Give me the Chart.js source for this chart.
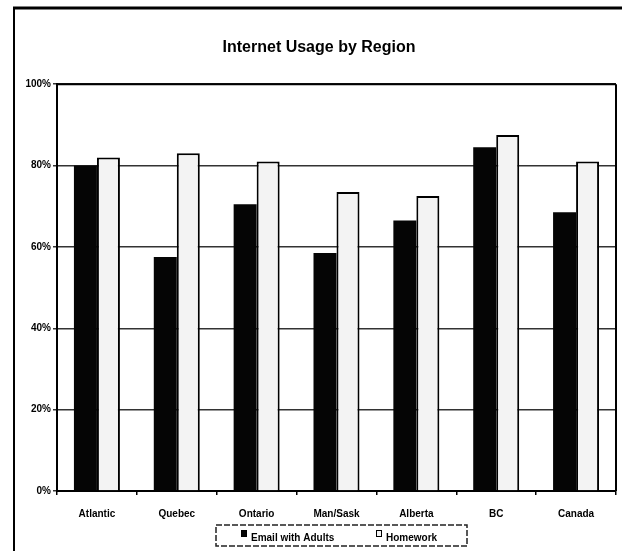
<!DOCTYPE html>
<html>
<head>
<meta charset="utf-8">
<script src="https://cdn.jsdelivr.net/npm/chart.js@4"></script>
<style>
html,body{margin:0;padding:0;background:#fff;}
#wrap{position:relative;width:622px;height:551px;}
</style>
</head>
<body>
<div id="wrap"><canvas id="c" width="622" height="551"></canvas></div>
<script>
const categories = ['Atlantic', 'Quebec', 'Ontario', 'Man/Sask', 'Alberta', 'BC', 'Canada'];
const emailWithAdults = [80, 57.5, 70.5, 58.5, 66.5, 84.5, 68.5];
const homework = [82, 83, 81, 73.5, 72.5, 87.5, 81];
const seriesLabels = ['Email with Adults', 'Homework'];
const chartTitle = 'Internet Usage by Region';

const FONT = '"Liberation Sans", Arial, sans-serif';

const framePlugin = {
  id: 'frame',
  afterDraw(chart) {
    const ctx = chart.ctx;
    const a = chart.chartArea;
    ctx.save();
    ctx.strokeStyle = '#000';
    ctx.lineWidth = 2;
    ctx.beginPath();
    ctx.moveTo(a.right, a.top);
    ctx.lineTo(a.right, a.bottom);
    ctx.moveTo(a.left, a.top);
    ctx.lineTo(a.right, a.top);
    ctx.stroke();
    // outer frame
    ctx.lineWidth = 2;
    ctx.beginPath();
    ctx.moveTo(14, 7);
    ctx.lineTo(14, 551);
    ctx.stroke();
    ctx.lineWidth = 3;
    ctx.beginPath();
    ctx.moveTo(13, 8);
    ctx.lineTo(622, 8);
    ctx.stroke();
    // legend
    const lx = 216, ly = 525, lw = 251, lh = 21;
    ctx.lineWidth = 1.5;
    ctx.strokeStyle = '#222';
    ctx.setLineDash([6, 2]);
    ctx.strokeRect(lx, ly, lw, lh);
    ctx.setLineDash([]);
    const ds = chart.data.datasets;
    const items = [{x: 241}, {x: 376}];
    ctx.font = 'bold 10px ' + FONT;
    ctx.textBaseline = 'middle';
    ctx.textAlign = 'left';
    items.forEach((it, i) => {
      ctx.fillStyle = ds[i].backgroundColor;
      ctx.fillRect(it.x, ly + 5, 6, 7);
      ctx.strokeStyle = '#000';
      ctx.lineWidth = 1;
      ctx.strokeRect(it.x + 0.5, ly + 5.5, 5, 6);
      ctx.fillStyle = '#000';
      ctx.fillText(ds[i].label, it.x + 10, ly + 13);
    });
    ctx.restore();
  }
};

new Chart(document.getElementById('c'), {
  type: 'bar',
  data: {
    labels: categories,
    datasets: [
      {
        label: seriesLabels[0],
        data: emailWithAdults,
        backgroundColor: '#050505',
        borderColor: '#050505',
        borderWidth: 0,
        categoryPercentage: 0.576,
        barPercentage: 1.0
      },
      {
        label: seriesLabels[1],
        data: homework,
        backgroundColor: '#f3f3f3',
        borderColor: '#000',
        borderWidth: 2,
        categoryPercentage: 0.576,
        barPercentage: 1.0
      }
    ]
  },
  options: {
    responsive: false,
    animation: false,
    devicePixelRatio: 1,
    layout: { padding: { left: 22, right: 6, top: 20, bottom: 0 } },
    plugins: {
      legend: { display: false },
      tooltip: { enabled: false },
      title: {
        display: true,
        text: chartTitle,
        color: '#000',
        font: { family: FONT, size: 16, weight: 'bold' },
        padding: { top: 18, bottom: 27 }
      }
    },
    scales: {
      x: {
        offset: true,
        grid: {
          display: true,
          offset: true,
          drawOnChartArea: false,
          drawTicks: true,
          tickLength: 4,
          color: '#000',
          lineWidth: 1.5
        },
        border: { display: true, color: '#000', width: 2 },
        ticks: {
          color: '#000',
          padding: 13,
          maxRotation: 0,
          autoSkip: false,
          font: { family: FONT, size: 10, weight: 'bold' }
        },
        afterFit(scale) { scale.height = 60; }
      },
      y: {
        min: 0,
        max: 100,
        ticks: {
          stepSize: 20,
          color: '#000',
          padding: 2,
          font: { family: FONT, size: 10, weight: 'bold' },
          callback: (v) => v + '%'
        },
        grid: {
          display: true,
          drawOnChartArea: true,
          drawTicks: true,
          tickLength: 4,
          color: '#333',
          lineWidth: 1.5
        },
        border: { display: true, color: '#000', width: 2 },
        afterFit(scale) { scale.width = 35; }
      }
    }
  },
  plugins: [framePlugin]
});
</script>
</body>
</html>
